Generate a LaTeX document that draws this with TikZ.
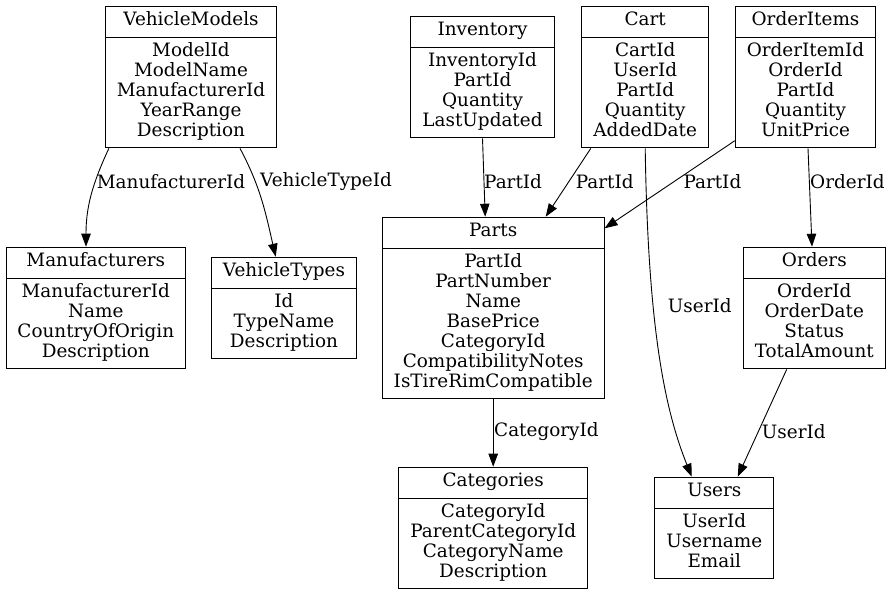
\documentclass[tikz,border=0pt]{standalone}
\usepackage{fontspec}
\setmainfont{DejaVu Serif}
\usetikzlibrary{shapes.multipart,arrows.meta}

\tikzset{
    entity/.style={draw, line width=0.9pt, rectangle split, rectangle split parts=2,
        align=center, anchor=north, inner xsep=11.5pt, inner ysep=5pt,
        font=\fontsize{18.4}{20}\selectfont},
    fk/.style={->, line width=0.9pt},
    fklabel/.style={right, inner sep=0pt, font=\fontsize{18.4}{20}\selectfont}
}

\begin{document}
\begin{tikzpicture}[x=1pt, y=-1pt, >={Triangle[length=13pt, width=9.5pt]}]

\useasboundingbox (0,0) rectangle (891,595);

% Tables
\node[entity] (vehiclemodels) at (191,5.7) {\strut VehicleModels
    \nodepart{two} ModelId\\ModelName\\ManufacturerId\\YearRange\\Description\strut};
\node[entity] (manufacturers) at (95.8,246.7) {\strut Manufacturers
    \nodepart{two} ManufacturerId\\Name\\CountryOfOrigin\\Description\strut};
\node[entity] (vehicletypes) at (284,256.7) {\strut VehicleTypes
    \nodepart{two} Id\\TypeName\\Description\strut};
\node[entity] (inventory) at (482.5,15.7) {\strut Inventory
    \nodepart{two} InventoryId\\PartId\\Quantity\\LastUpdated\strut};
\node[entity] (cart) at (645.2,5.7) {\strut Cart
    \nodepart{two} CartId\\UserId\\PartId\\Quantity\\AddedDate\strut};
\node[entity] (orderitems) at (805.5,5.7) {\strut OrderItems
    \nodepart{two} OrderItemId\\OrderId\\PartId\\Quantity\\UnitPrice\strut};
\node[entity] (parts) at (493.2,216.7) {\strut Parts
    \nodepart{two} PartId\\PartNumber\\Name\\BasePrice\\CategoryId\\CompatibilityNotes\\IsTireRimCompatible\strut};
\node[entity] (orders) at (814.3,246.7) {\strut Orders
    \nodepart{two} OrderId\\OrderDate\\Status\\TotalAmount\strut};
\node[entity] (categories) at (493.2,466.7) {\strut Categories
    \nodepart{two} CategoryId\\ParentCategoryId\\CategoryName\\Description\strut};
\node[entity] (users) at (714.3,476.7) {\strut Users
    \nodepart{two} UserId\\Username\\Email\strut};

% Foreign keys
\draw[fk] ([xshift=4pt]vehiclemodels.south west) to[out=-115, in=90] ([xshift=-9.8pt]manufacturers.north);
\draw[fk] ([xshift=49pt]vehiclemodels.south) to[out=-62, in=103] ([xshift=-8.3pt]vehicletypes.north);
\draw[fk] (inventory.south) -- ([xshift=-8pt]parts.north);
\draw[fk] ([xshift=9.3pt]cart.south west) -- ([xshift=52.5pt]parts.north);
\draw[fk] ([yshift=7.7pt]orderitems.south west) -- ([yshift=-11.6pt]parts.north east);
\draw[fk] ([xshift=2.5pt]orderitems.south) -- ([xshift=-2.3pt]orders.north);
\draw[fk] (cart.south) .. controls (648,330) and (665,410) .. ([xshift=-22.6pt]users.north);
\draw[fk] ([xshift=-27.6pt]orders.south) -- ([xshift=23.4pt]users.north);
\draw[fk] (parts.south) -- (categories.north);

% Key labels
\node[fklabel] (lblmanufacturer) at (96.7,181.7) {ManufacturerId};
\node[fklabel] (lblvehicletype) at (260,181.7) {VehicleTypeId};
\node[fklabel] (lblinventory) at (484,181.7) {PartId};
\node[fklabel] (lblcartpart) at (575.7,181.7) {PartId};
\node[fklabel] (lblitempart) at (683.3,181.7) {PartId};
\node[fklabel] (lblorder) at (810,181.7) {OrderId};
\node[fklabel] (lblcartuser) at (667.7,306) {UserId};
\node[fklabel] (lblorderuser) at (761.7,431.7) {UserId};
\node[fklabel] (lblcategory) at (494,431.7) {CategoryId};

\end{tikzpicture}
\end{document}
